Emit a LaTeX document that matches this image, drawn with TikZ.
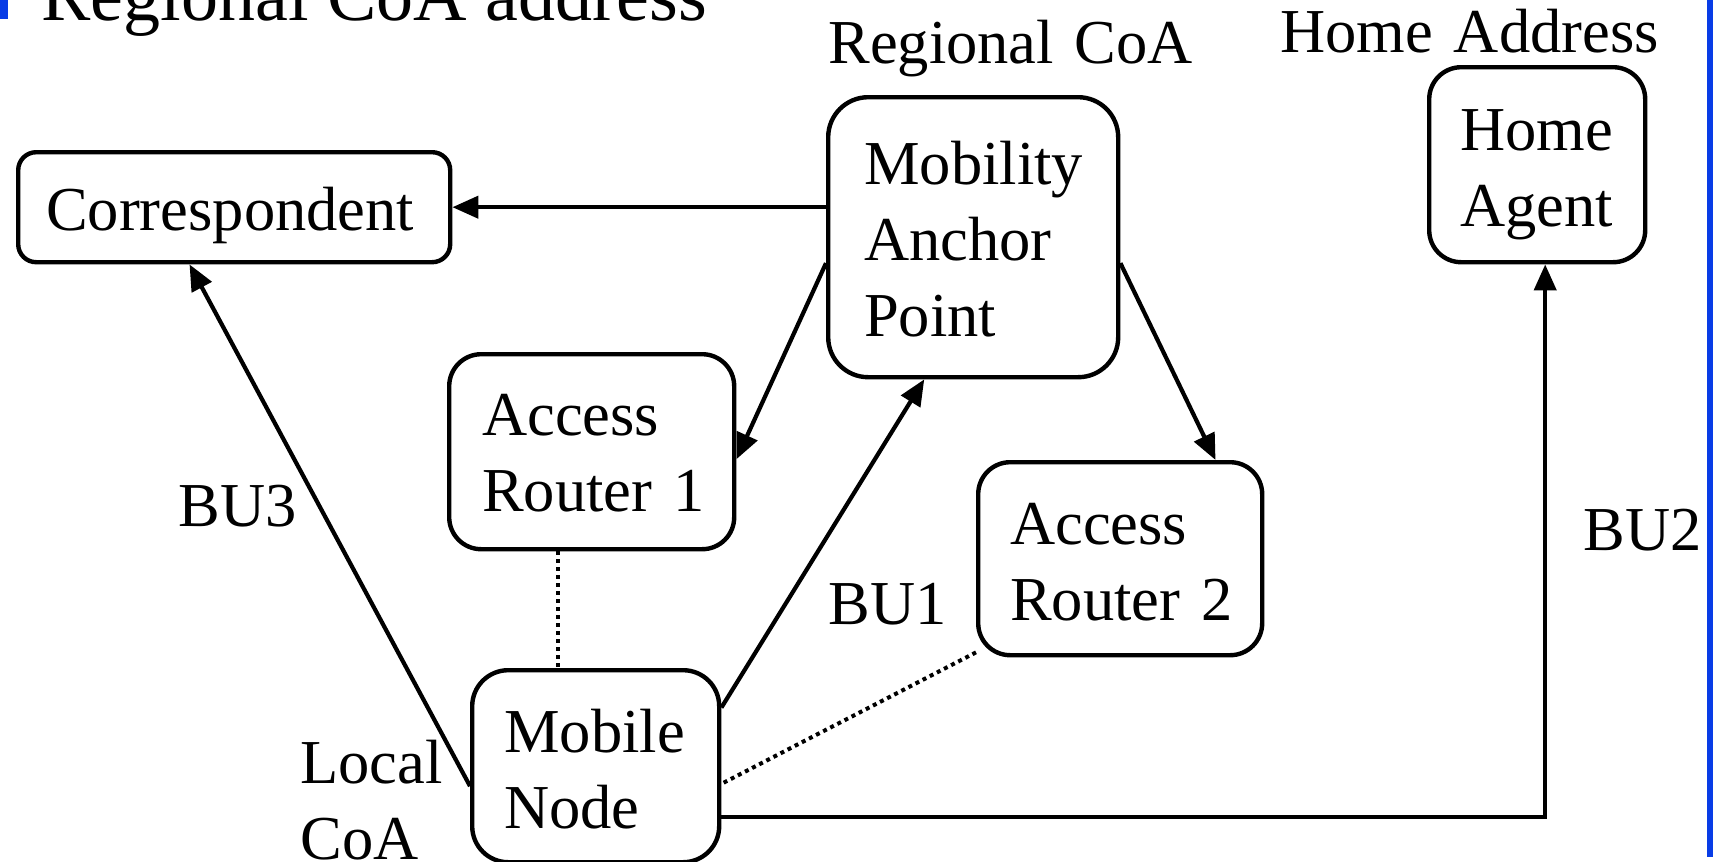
\documentclass[tikz,border=0pt]{standalone}
\usepackage{fontspec}
\setmainfont{Liberation Serif}
\usetikzlibrary{arrows.meta}
\definecolor{slideblue}{RGB}{8,60,230}
\begin{document}
\begin{tikzpicture}[x=0.5pt,y=-0.5pt,
  txt/.style={font=\fontsize{31.25}{38}\selectfont},
  box/.style={txt, draw=black, line width=2.2pt, anchor=north west,
    inner ysep=0pt, align=left},
  lbl/.style={txt, anchor=base west, inner sep=0pt, align=left, text width=200pt},
  arr/.style={line width=2.1pt, -{Triangle[length=13pt,width=11pt]}},
  link/.style={line width=2pt, dash pattern=on 2pt off 2pt}]
\useasboundingbox (0,0) rectangle (1715,862);

% title and slide decorations
\fill[slideblue] (0,0) rectangle (8,19);
\node[anchor=base west, inner sep=0pt, font=\fontsize{37}{44}\selectfont] (title) at (41,20) {Regional CoA address};
\draw[slideblue, line width=3pt] (1710,0) -- (1710,857);

% boxes
\node[box, rounded corners=9pt, inner xsep=14pt, text width=188pt,
      text height=39pt, text depth=16pt] (cor) at (16,150) {Correspondent};
\node[box, rounded corners=20pt, inner xsep=18pt, text width=109pt,
      text height=43.5pt, text depth=96.5pt] (map) at (826,95) {Mobility\\Anchor\\Point};
\node[box, rounded corners=16pt, inner xsep=16.5pt, text width=109.5pt,
      text height=40.5pt, text depth=57pt] (ar1) at (447,352) {Access\\\mbox{Router 1}};
\node[box, rounded corners=16pt, inner xsep=16pt, text width=110pt,
      text height=41pt, text depth=55.5pt] (ar2) at (976,460) {Access\\\mbox{Router 2}};
\node[box, rounded corners=16pt, inner xsep=15.5pt, text width=77pt,
      text height=41.5pt, text depth=56pt] (ha) at (1427,65) {Home\\Agent};
\node[box, rounded corners=18pt, inner xsep=16pt, text width=91.5pt,
      text height=41pt, text depth=55pt] (mn) at (470,668) {Mobile\\Node};

% labels
\node[lbl] (rcoa) at (828,63) {Regional CoA};
\node[lbl] (haddr) at (1280,53) {Home Address};
\node[lbl] (bu3) at (178,526) {BU3};
\node[lbl] (bu1) at (828,624) {BU1};
\node[lbl] (bu2) at (1583,550) {BU2};
\node[lbl] (lcoa) at (300,783) {Local\\CoA};

% connectors
\draw[arr] (map.west |- cor.east) -- (cor.east);
\draw[arr] (map.190) -- (ar1.-3);
\draw[arr] (map.-10) -- (ar2.46);
\draw[arr] (mn.25) -- (map.-109);
\draw[arr] (mn.189) -- (cor.-128);
\draw[arr] (mn.-22) -| ([xshift=4pt]ha.south);
\draw[link] ([xshift=-17pt]ar1.south) -- ([xshift=-17pt]ar1.south |- mn.north);
\draw[link] (ar2.213) -- (mn.-8);
\end{tikzpicture}
\end{document}
